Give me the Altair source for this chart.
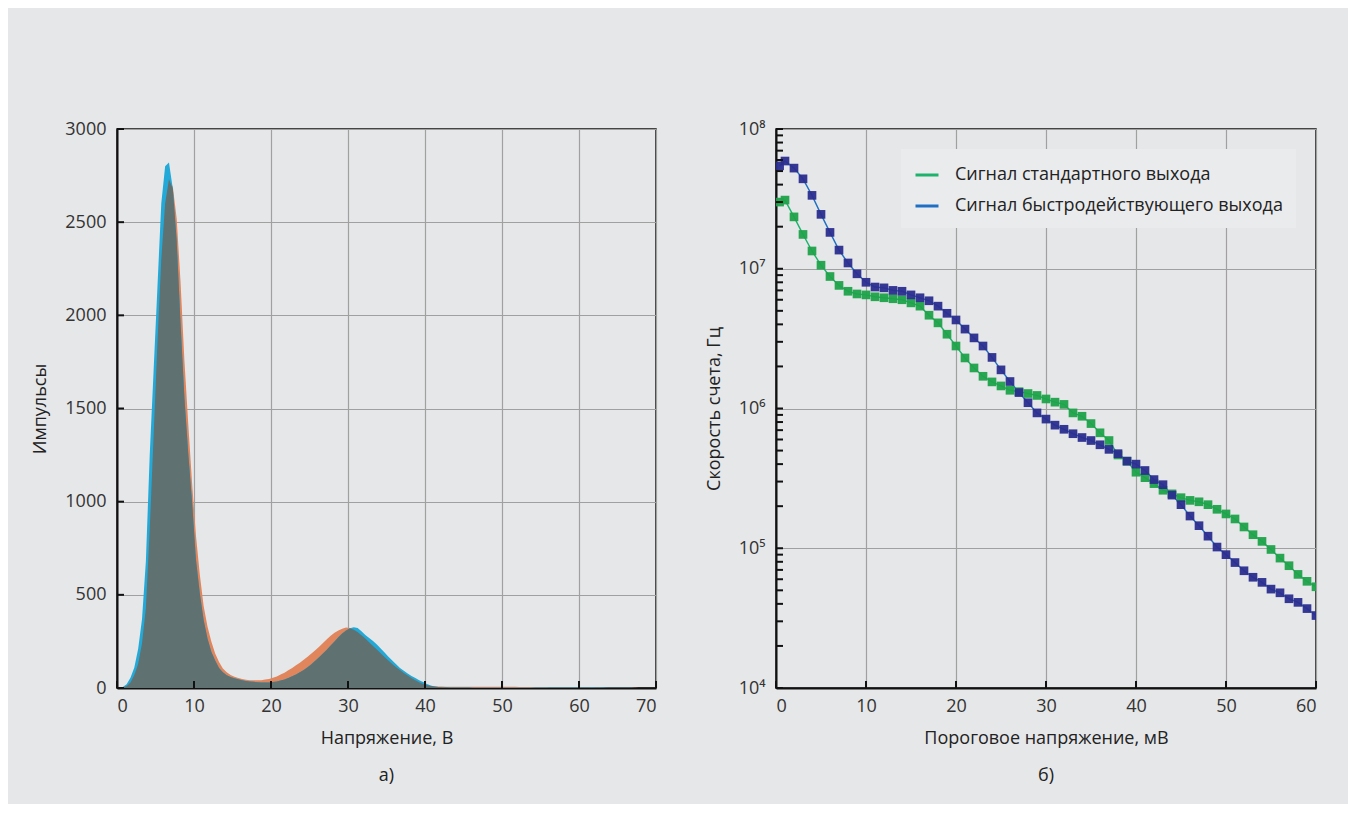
import altair as alt
import numpy as np
import pandas as pd

BG = "#e6e7e9"
FONT = "Open Sans"

# ---------------- Panel a): pulse-height histograms (0.5 V bins) ----------------
bin_centers_start = 0.25
bin_step = 0.5
hist_orange = [
    0, 3, 10, 30, 70, 130, 240, 430, 850, 1350,
    1850, 2300, 2600, 2730, 2690, 2520, 2180, 1760, 1420, 1100,
    820, 610, 440, 330, 250, 185, 140, 105, 85, 70,
    60, 54, 48, 44, 42, 41, 41, 42, 45, 48,
    55, 62, 72, 82, 95, 108, 122, 136, 152, 168,
    185, 202, 222, 242, 262, 280, 296, 308, 318, 325,
    322, 312, 300, 283, 265, 245, 226, 206, 186, 167,
    148, 129, 112, 96, 81, 67, 54, 42, 31, 22,
    15, 11, 8, 8, 8, 7, 7, 7, 7, 7,
    7, 7, 7, 7, 7, 7, 7, 7, 7, 7,
    7, 7, 7, 7, 6, 6, 6, 6, 6, 6,
    6, 6, 6, 6, 5, 5, 5, 5, 5, 5,
    4, 4, 4, 3, 3, 3, 2, 2, 2, 2,
    1, 1, 1, 1, 1, 0, 0, 0, 0, 0,
]
hist_cyan = [
    0, 5, 20, 55, 110, 210, 370, 680, 1250, 1700,
    2150, 2600, 2800, 2820, 2680, 2400, 1960, 1560, 1260, 1000,
    690, 510, 365, 265, 195, 148, 108, 84, 69, 59,
    52, 47, 42, 38, 35, 33, 31, 30, 30, 30,
    32, 35, 40, 46, 54, 63, 72, 84, 97, 112,
    128, 146, 165, 185, 205, 228, 250, 272, 292, 308,
    320, 326, 322, 305, 285, 268, 252, 234, 212, 190,
    168, 147, 127, 108, 92, 78, 65, 53, 42, 32,
    22, 14, 8, 5, 4, 4, 3, 3, 3, 3,
    3, 3, 2, 2, 2, 2, 2, 2, 2, 2,
    2, 2, 2, 2, 2, 2, 2, 2, 3, 3,
    3, 3, 4, 4, 4, 4, 4, 4, 4, 4,
    4, 4, 4, 4, 3, 3, 3, 2, 2, 2,
    1, 1, 1, 1, 0, 0, 0, 0, 0, 0,
]
left_x_ticks = [0, 10, 20, 30, 40, 50, 60, 70]
left_y_ticks = [0, 500, 1000, 1500, 2000, 2500, 3000]

# ---------------- Panel б): count rate vs threshold ----------------
threshold_mv = [0.4] + list(range(1, 61))
rate_standard = [
    3.0e7, 3.1e7, 2.35e7, 1.76e7, 1.34e7, 1.06e7, 8.8e6, 7.6e6, 6.9e6, 6.6e6,
    6.5e6, 6.3e6, 6.2e6, 6.1e6, 6.0e6, 5.7e6, 5.4e6, 4.65e6, 4.1e6, 3.4e6,
    2.8e6, 2.3e6, 1.95e6, 1.7e6, 1.55e6, 1.45e6, 1.35e6, 1.32e6, 1.28e6, 1.24e6,
    1.17e6, 1.11e6, 1.07e6, 9.3e5, 8.8e5, 7.8e5, 6.7e5, 5.9e5, 4.65e5, 4.2e5,
    3.5e5, 3.2e5, 2.9e5, 2.6e5, 2.45e5, 2.3e5, 2.2e5, 2.15e5, 2.05e5, 1.9e5,
    1.76e5, 1.62e5, 1.42e5, 1.25e5, 1.12e5, 9.8e4, 8.5e4, 7.5e4, 6.5e4, 5.8e4,
    5.3e4,
]
rate_fast = [
    5.45e7, 5.9e7, 5.25e7, 4.4e7, 3.35e7, 2.45e7, 1.82e7, 1.36e7, 1.1e7, 9.2e6,
    8.0e6, 7.4e6, 7.3e6, 7.0e6, 6.9e6, 6.5e6, 6.2e6, 5.9e6, 5.4e6, 4.8e6,
    4.3e6, 3.7e6, 3.2e6, 2.8e6, 2.32e6, 1.89e6, 1.56e6, 1.3e6, 1.1e6, 9.3e5,
    8.4e5, 7.6e5, 7.1e5, 6.6e5, 6.2e5, 5.9e5, 5.5e5, 5.1e5, 4.75e5, 4.2e5,
    4.0e5, 3.6e5, 3.1e5, 2.85e5, 2.4e5, 2.05e5, 1.7e5, 1.45e5, 1.22e5, 1.02e5,
    9.0e4, 7.9e4, 6.9e4, 6.2e4, 5.7e4, 5.1e4, 4.8e4, 4.35e4, 4.1e4, 3.7e4,
    3.3e4,
]
series_names = ["Сигнал стандартного выхода", "Сигнал быстродействующего выхода"]
right_x_ticks = [0, 10, 20, 30, 40, 50, 60]
decades = [1e4, 1e5, 1e6, 1e7, 1e8]
minor_mult = [2, 3, 4, 5, 6, 7, 8, 9]

W_L, W_R, H = 539, 540, 559
TICK = 7
FS = 18

# ---------- left panel ----------
centers = bin_centers_start + bin_step * np.arange(len(hist_orange))
orange = np.array(hist_orange)
cyan = np.array(hist_cyan)
overlap = np.minimum(orange, cyan)
hist_df = pd.concat([
    pd.DataFrame({"v": centers, "count": orange, "s": "orange"}),
    pd.DataFrame({"v": centers, "count": cyan, "s": "cyan"}),
    pd.DataFrame({"v": centers, "count": overlap, "s": "overlap"}),
])

xL = alt.X("v:Q", scale=alt.Scale(domain=[0, 70], nice=False),
           axis=alt.Axis(values=left_x_ticks, title="Напряжение, В", grid=True))
yL = alt.Y("count:Q", scale=alt.Scale(domain=[0, 3000], nice=False),
           axis=alt.Axis(values=left_y_ticks, title="Импульсы", grid=True, format="d"))

hist_colors = {"orange": "#e0855c", "cyan": "#23a9d8", "overlap": "#5f7171"}
layers_left = []
for s in ["orange", "cyan", "overlap"]:
    layers_left.append(
        alt.Chart(hist_df).transform_filter(alt.datum.s == s)
        .mark_area(interpolate="linear", color=hist_colors[s], opacity=1)
        .encode(x=xL, y=yL)
    )
ytick_l = alt.Chart(pd.DataFrame({"count": left_y_ticks})).mark_rule(
    color="#111", strokeWidth=2).encode(y=yL, x=alt.value(0), x2=alt.value(TICK))
xtick_l = alt.Chart(pd.DataFrame({"v": left_x_ticks})).mark_rule(
    color="#111", strokeWidth=2).encode(x=xL, y=alt.value(H), y2=alt.value(H - TICK))

left = alt.layer(*layers_left, ytick_l, xtick_l).properties(
    width=W_L, height=H,
    title=alt.TitleParams("а)", orient="bottom", offset=20, fontSize=FS,
                          font=FONT, fontWeight="normal", color="#222"),
)

# ---------- right panel ----------
rate_df = pd.concat([
    pd.DataFrame({"mv": threshold_mv, "rate": rate_standard, "series": series_names[0]}),
    pd.DataFrame({"mv": threshold_mv, "rate": rate_fast, "series": series_names[1]}),
])
xR = alt.X("mv:Q", scale=alt.Scale(domain=[0, 60], nice=False),
           axis=alt.Axis(values=right_x_ticks, title="Пороговое напряжение, мВ", grid=True))
sup = "['⁰','¹','²','³','⁴','⁵','⁶','⁷','⁸','⁹'][round(log(datum.value)/LN10)]"
yR = alt.Y("rate:Q", scale=alt.Scale(type="log", domain=[1e4, 1e8], nice=False),
           axis=alt.Axis(values=decades, title="Скорость счета, Гц", grid=True,
                         labelExpr="'10' + " + sup))

lines = alt.Chart(rate_df).mark_line(strokeWidth=1.4, clip=True).encode(
    x=xR, y=yR,
    color=alt.Color("series:N",
                    scale=alt.Scale(domain=series_names, range=["#1db36c", "#1f6fc5"]),
                    legend=alt.Legend(
                        title=None, orient="none", legendX=125, legendY=20,
                        symbolType="stroke", symbolSize=529, symbolStrokeWidth=3,
                        labelFont=FONT, labelFontSize=FS, labelColor="#222",
                        labelLimit=500, labelOffset=15, rowPadding=9,
                        fillColor="#eaebed", padding=13,
                    )),
    order="mv:Q",
)
points = alt.Chart(rate_df).mark_point(
    shape="square", filled=True, size=75, opacity=0.95, clip=True
).encode(
    x=xR, y=yR,
    color=alt.Color("series:N",
                    scale=alt.Scale(domain=series_names, range=["#1fa24a", "#2a2d8e"]),
                    legend=None),
)

minor_vals = [m * d for d in decades[:-1] for m in minor_mult]
ytick_r = alt.Chart(pd.DataFrame({"rate": decades + minor_vals})).mark_rule(
    color="#111", strokeWidth=2).encode(y=yR, x=alt.value(0), x2=alt.value(TICK))
xtick_r = alt.Chart(pd.DataFrame({"mv": right_x_ticks})).mark_rule(
    color="#111", strokeWidth=2).encode(x=xR, y=alt.value(H), y2=alt.value(H - TICK))

right = alt.layer(lines, points, ytick_r, xtick_r).resolve_scale(color="independent").properties(
    width=W_R, height=H,
    title=alt.TitleParams("б)", orient="bottom", offset=20, fontSize=FS,
                          font=FONT, fontWeight="normal", color="#222"),
)

chart = alt.hconcat(left, right, spacing=46).properties(
    background=BG,
    padding={"left": 23, "top": 111, "right": 30, "bottom": 18},
).configure_view(
    stroke="#111", strokeWidth=1.5,
).configure_axis(
    labelFont=FONT, labelFontSize=FS, labelColor="#333",
    titleFont=FONT, titleFontSize=FS, titleFontWeight="normal", titleColor="#222",
    tickSize=0, labelPadding=9, titlePadding=14,
    gridColor="#a0a0a0", gridWidth=1.2,
    domainColor="#111", domainWidth=2, zindex=1,
).configure_axisY(
    titlePadding=15, labelPadding=11,
)

chart.save("out.html", embed_options={"renderer": "svg", "actions": False})
